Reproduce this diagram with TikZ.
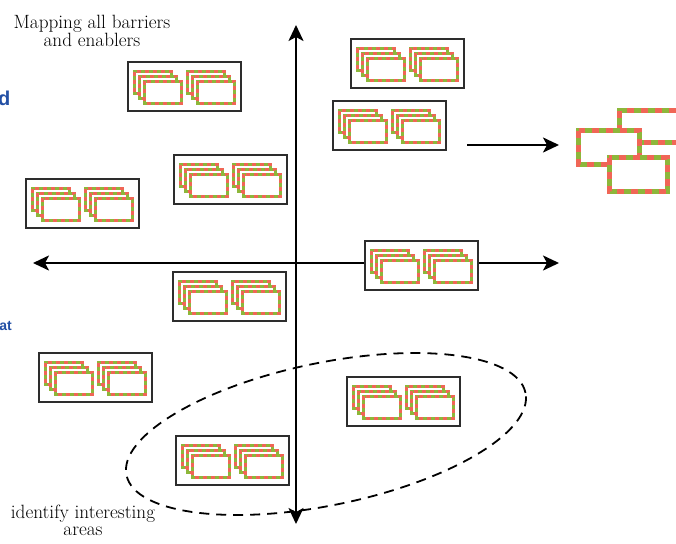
\documentclass[tikz,border=0pt]{standalone}
\usepackage{fontspec}
\newfontfamily\labelsans{Liberation Sans}
\usetikzlibrary{arrows.meta}

\definecolor{cardgreen}{RGB}{141,183,58}
\definecolor{cardred}{RGB}{240,102,86}
\definecolor{boxgray}{RGB}{45,45,45}
\definecolor{headblue}{RGB}{35,80,165}

\begin{document}
\begin{tikzpicture}[x=1pt,y=-1pt,
  >={Stealth[length=16pt,width=15pt,inset=4pt]},
  axisline/.style={line width=2.2pt},
  groupbox/.style={draw=boxgray,line width=1.3pt,fill=white},
  smallcard/.style={line width=3pt},
  bigcard/.style={line width=5pt},
  caption/.style={inner sep=0pt,align=center,anchor=north,
    font=\fontsize{19.2}{17}\selectfont\addfontfeatures{FakeBold=0.35}},
  cutlabel/.style={inner sep=0pt,text=headblue,font=\labelsans\bfseries},
  ring/.style={line width=1.8pt,dash pattern=on 10pt off 7pt},
  % one dashed two-colour card: green base with red dashes on top
  pics/card/.style args={#1/#2/#3/#4}{code={
    \fill[white] (#1,#2) rectangle (#3,#4);
    \draw[smallcard,draw=cardgreen] (#1,#2) rectangle (#3,#4);
    \draw[smallcard,draw=cardred,dash pattern=on 4pt off 4pt] (#1,#2) rectangle (#3,#4);
  }},
  % a framed pair of stacks, three cards each
  pics/cardpair/.style={code={
    \draw[groupbox] (0,0) rectangle (113,49);
    \foreach \sx in {0,53.4}{
      \foreach \k in {0,1,2}{
        \pgfmathsetmacro{\xa}{\sx+6.5+5*\k}
        \pgfmathsetmacro{\ya}{9.5+4.75*\k}
        \pgfmathsetmacro{\xb}{\xa+37}
        \pgfmathsetmacro{\yb}{\ya+22}
        \pic {card={\xa/\ya/\xb/\yb}};
      }
    }
  }}
]
\useasboundingbox (0,0) rectangle (676,543);
\clip (0,0) rectangle (676,543);

% axes
\coordinate (ytop) at (296,25);
\coordinate (ybot) at (296,524);
\coordinate (xleft) at (33,263);
\coordinate (xright) at (559,263);
\draw[axisline,<->] (xleft) -- (xright);
\draw[axisline,<->] (ybot) -- (ytop);

% dashed selection ring
\coordinate (ringc) at (326,434);
\draw[ring,rotate around={11.65:(ringc)}] (ringc) ellipse [x radius=203.7pt, y radius=71.2pt];

% framed card pairs
\pic (g1) at (128,62) {cardpair};
\pic (g2) at (351,39) {cardpair};
\pic (g3) at (333,101) {cardpair};
\pic (g4) at (174,155) {cardpair};
\pic (g5) at (26,179) {cardpair};
\pic (g6) at (365,241) {cardpair};
\pic (g7) at (173,272) {cardpair};
\pic (g8) at (39,353) {cardpair};
\pic (g9) at (347,377) {cardpair};
\pic (g10) at (176,436) {cardpair};

% outgoing arrow
\coordinate (outstart) at (467,145);
\coordinate (outend) at (559,145);
\draw[axisline,->] (outstart) -- (outend);

% enlarged cards on the right
\foreach \xa/\ya/\xb/\yb in {619.8/110.8/686/142.5, 578.5/130.8/639.2/164.2, 609.2/157.5/667.5/191.5}{
  \fill[white] (\xa,\ya) rectangle (\xb,\yb);
  \draw[bigcard,draw=cardgreen] (\xa,\ya) rectangle (\xb,\yb);
  \draw[bigcard,draw=cardred,dash pattern=on 7pt off 7pt] (\xa,\ya) rectangle (\xb,\yb);
}

% captions
\node[caption] (mapping) at (92,14.7) {Mapping all barriers\\and enablers};
\node[caption] (identify) at (83,504.7) {identify interesting\\areas};

% words running in from the left edge
\node[cutlabel,anchor=base east,font=\labelsans\bfseries\fontsize{20}{20}\selectfont] (cutd) at (10.5,105) {d};
\node[cutlabel,anchor=base east,font=\labelsans\bfseries\fontsize{14}{14}\selectfont] (cutat) at (12,330) {at};
\end{tikzpicture}
\end{document}
